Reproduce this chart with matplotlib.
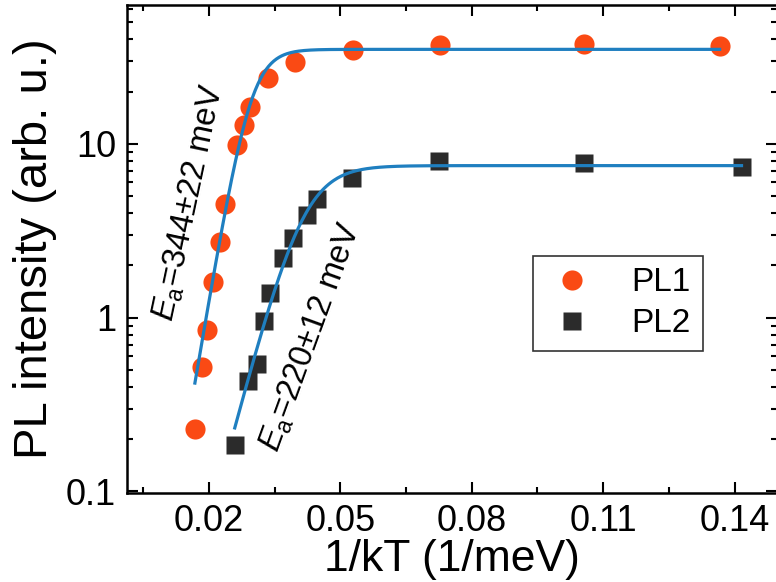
import numpy as np
import matplotlib
matplotlib.use("Agg")
import matplotlib.pyplot as plt
from matplotlib.ticker import FixedLocator, LogLocator, NullFormatter

plt.rcParams['font.family'] = ['Liberation Sans', 'DejaVu Sans']
plt.rcParams['mathtext.fontset'] = 'custom'
plt.rcParams['mathtext.rm'] = 'Liberation Sans'
plt.rcParams['mathtext.it'] = 'Liberation Sans:italic'

# PL1 (circles), 1/kT in 1/meV vs. intensity
x_pl1 = [0.0168, 0.0184, 0.0195, 0.0209, 0.0225, 0.0237, 0.0264, 0.0280,
         0.0294, 0.0335, 0.0396, 0.0529, 0.0727, 0.1056, 0.1366]
y_pl1 = [0.23, 0.52, 0.85, 1.61, 2.71, 4.5, 9.9, 12.9,
         16.4, 23.9, 29.5, 34.6, 37.0, 37.5, 36.4]

# PL2 (squares)
x_pl2 = [0.0259, 0.0289, 0.0310, 0.0325, 0.0339, 0.0369, 0.0392, 0.0424,
         0.0446, 0.0526, 0.0725, 0.1056, 0.1416]
y_pl2 = [0.185, 0.43, 0.54, 0.96, 1.39, 2.22, 2.89, 3.92,
         4.79, 6.33, 7.93, 7.8, 7.32]

# Arrhenius fits I = I0 / (1 + C exp(-Ea/kT))
ea1, ea1_err = 344, 22
ea2, ea2_err = 220, 12
i0_1, c_1 = 35.0, 26600.0
i0_2, c_2 = 7.5, 9340.0
fit1_range = (0.0168, 0.1366)
fit2_range = (0.0259, 0.1416)

xticks = [0.02, 0.05, 0.08, 0.11, 0.14]
xminor = [0.005, 0.035, 0.065, 0.095, 0.125]


def arrhenius(x, i0, c, ea):
    return i0 / (1 + c * np.exp(-ea * x))


fig = plt.figure(figsize=(7.76, 5.82), dpi=100)
ax = fig.add_axes([127 / 776, 1 - 493 / 582, 650 / 776, 488 / 582])

xf1 = np.linspace(fit1_range[0], fit1_range[1], 400)
xf2 = np.linspace(fit2_range[0], fit2_range[1], 400)

ax.plot(x_pl1, y_pl1, 'o', color='#fa4a14', ms=14.5, mec='none', label='PL1', zorder=2)
ax.plot(x_pl2, y_pl2, 's', color='#2b2b2b', ms=13, mec='none', label='PL2', zorder=2)
ax.plot(xf1, arrhenius(xf1, i0_1, c_1, ea1), color='#1f7fc0', lw=2.3, zorder=3)
ax.plot(xf2, arrhenius(xf2, i0_2, c_2, ea2), color='#1f7fc0', lw=2.3, zorder=3)

ax.set_yscale('log')
ax.set_xlim(0.0013, 0.1497)
ax.set_ylim(0.098, 63)

ax.xaxis.set_major_locator(FixedLocator(xticks))
ax.xaxis.set_minor_locator(FixedLocator(xminor))
ax.set_xticklabels([str(t) for t in xticks])
ax.yaxis.set_major_locator(FixedLocator([0.1, 1, 10]))
ax.yaxis.set_minor_locator(LogLocator(base=10, subs=np.arange(2, 10)))
ax.yaxis.set_minor_formatter(NullFormatter())
ax.set_yticklabels(['0.1', '1', '10'])

ax.tick_params(which='both', direction='in', top=True, right=True, labelsize=26, width=1.5)
ax.tick_params(which='major', length=8, pad=8)
ax.tick_params(which='minor', length=4.5)
for s in ax.spines.values():
    s.set_linewidth(1.8)

ax.set_xlabel('1/kT (1/meV)', fontsize=32, labelpad=0)
ax.set_ylabel('PL intensity (arb. u.)', fontsize=34, labelpad=6)

# activation energy labels along the steep parts of the fits
ax.text(0.0155, 4.6, r'$E_\mathregular{a}$=%d$\pm$%d meV' % (ea1, ea1_err),
        fontsize=23.5, rotation=78, ha='center', va='center', rotation_mode='anchor')
ax.text(0.0432, 0.77, r'$E_\mathregular{a}$=%d$\pm$%d meV' % (ea2, ea2_err),
        fontsize=23.5, rotation=70, ha='center', va='center', rotation_mode='anchor')

leg = ax.legend(loc='upper left', bbox_to_anchor=(0.625, 0.486), borderaxespad=0,
                fontsize=24, frameon=True, fancybox=False, edgecolor='black',
                handletextpad=1.0, borderpad=0.35, labelspacing=0.3, handlelength=1.6)
leg.get_frame().set_linewidth(1.2)

fig.savefig('out.png', dpi=100)
